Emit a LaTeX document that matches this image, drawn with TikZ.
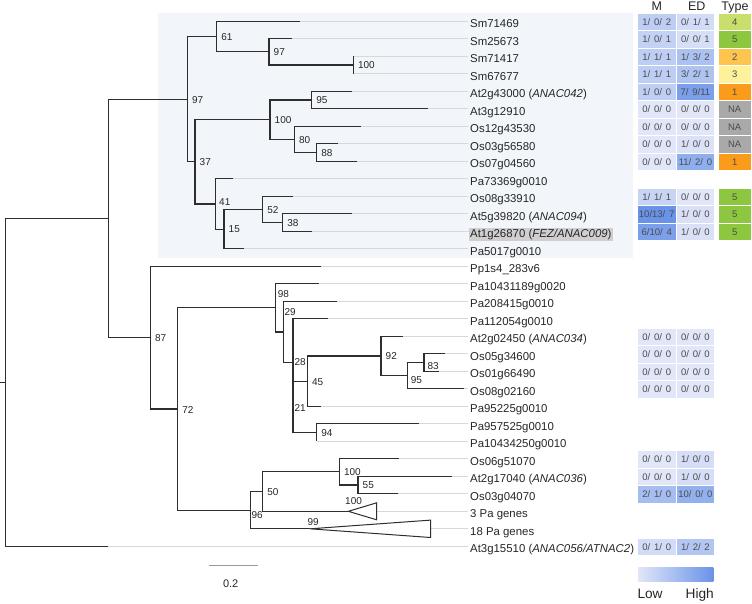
\documentclass[tikz,border=0pt]{standalone}
\usepackage{fontspec}
\setmainfont{Liberation Sans}
\usetikzlibrary{positioning,calc}
\definecolor{branch}{HTML}{2E2E2E}
\definecolor{leader}{HTML}{D8D8D8}
\definecolor{cladebg}{HTML}{F2F6FB}
\definecolor{hlgray}{HTML}{CFCFCF}
\definecolor{lo}{HTML}{E1E6F8}
\definecolor{hi}{HTML}{6993E8}
\definecolor{ty1}{HTML}{FA9B1C}
\definecolor{ty2}{HTML}{FDC44F}
\definecolor{ty3}{HTML}{FDF29B}
\definecolor{ty4}{HTML}{C9DF6B}
\definecolor{ty5}{HTML}{8DC63F}
\definecolor{tyna}{HTML}{A9A9A9}
\definecolor{sbar}{HTML}{9A9A9A}
\newcommand{\fs}{\hspace{0.4em}}
\newcommand{\trio}[3]{#1/#2/#3}

\begin{document}
\begin{tikzpicture}[x=1pt, y=-1pt,
  br/.style={draw=branch, line width=1.1pt},
  lead/.style={draw=leader, line width=0.8pt},
  leaf/.style={anchor=base west, font=\fontsize{11.4}{13}\selectfont, text=black!85, inner xsep=2pt, inner ysep=1.2pt, text height=8.2pt, text depth=2.4pt},
  bs/.style={anchor=west, inner sep=0pt, font=\fontsize{10}{12}\selectfont, text=black!85},
  cell/.style={minimum width=37.6pt, minimum height=16.6pt, inner sep=0pt, font=\fontsize{9.5}{11}\selectfont, text=black!70},
  tcell/.style={cell, minimum width=32.4pt},
  head/.style={anchor=base, font=\fontsize{12.5}{14}\selectfont, text=black!85},
  lgd/.style={font=\fontsize{13.7}{16}\selectfont, inner sep=0pt, text=black!85}]
\useasboundingbox (0,0) rectangle (752,603);

% highlighted clade
\fill[cladebg] (158,13) rectangle (633,258);

% leaf tips
\foreach \i/\x in {0/300,1/292.3,2/353.3,3/353.3,4/352.3,5/428.3,6/360.7,7/337.7,8/356.7,9/233.3,10/292.7,
  11/351.7,12/311.7,13/244.3,14/321,15/319,16/337.3,17/327.7,18/403.3,19/445,20/439,21/464,22/321,
  23/419,24/316.7,25/399,26/451.7,27/398.3,28/376.7,29/430.7,30/108.3}
  \coordinate (t\i) at (\x,{21.3+17.5*\i});

% leaf names
\node[leaf] (n0) at (468,27.5) {Sm71469};
\node[leaf] (n1) at (468,45) {Sm25673};
\node[leaf] (n2) at (468,62.5) {Sm71417};
\node[leaf] (n3) at (468,80) {Sm67677};
\node[leaf] (n4) at (468,97.5) {At2g43000 (\textit{ANAC042})};
\node[leaf] (n5) at (468,115) {At3g12910};
\node[leaf] (n6) at (468,132.5) {Os12g43530};
\node[leaf] (n7) at (468,150) {Os03g56580};
\node[leaf] (n8) at (468,167.5) {Os07g04560};
\node[leaf] (n9) at (468,185) {Pa73369g0010};
\node[leaf] (n10) at (468,202.5) {Os08g33910};
\node[leaf] (n11) at (468,220) {At5g39820 (\textit{ANAC094})};
\node[leaf, fill=hlgray, inner xsep=1pt] (n12) at (469,237.5) {At1g26870 (\textit{FEZ/ANAC009})};
\node[leaf] (n13) at (468,255) {Pa5017g0010};
\node[leaf] (n14) at (468,272.5) {Pp1s4\_283v6};
\node[leaf] (n15) at (468,290) {Pa10431189g0020};
\node[leaf] (n16) at (468,307.5) {Pa208415g0010};
\node[leaf] (n17) at (468,325) {Pa112054g0010};
\node[leaf] (n18) at (468,342.5) {At2g02450 (\textit{ANAC034})};
\node[leaf] (n19) at (468,360) {Os05g34600};
\node[leaf] (n20) at (468,377.5) {Os01g66490};
\node[leaf] (n21) at (468,395) {Os08g02160};
\node[leaf] (n22) at (468,412.5) {Pa95225g0010};
\node[leaf] (n23) at (468,430) {Pa957525g0010};
\node[leaf] (n24) at (468,447.5) {Pa10434250g0010};
\node[leaf] (n25) at (468,465) {Os06g51070};
\node[leaf] (n26) at (468,482.5) {At2g17040 (\textit{ANAC036})};
\node[leaf] (n27) at (468,500) {Os03g04070};
\node[leaf] (n28) at (468,517.5) {3 Pa genes};
\node[leaf] (n29) at (468,535) {18 Pa genes};
\node[leaf] (n30) at (468,552.5) {At3g15510 (\textit{ANAC056/ATNAC2})};

\foreach \i in {0,...,30}
  \draw[lead] (t\i) -- (t\i -| n\i.west);

% inner nodes
\coordinate (root0) at (0,382.4);
\coordinate (root) at (5.7,382.4);
\coordinate (A) at (108.3,218.5);
\coordinate (B) at (187.3,99.2);
\coordinate (D) at (216.7,36.6);
\coordinate (F) at (269,51.9);
\coordinate (G) at (353.3,65);
\coordinate (E) at (195,161.8);
\coordinate (H) at (270,119.7);
\coordinate (J) at (311.7,100);
\coordinate (K) at (294.3,139.4);
\coordinate (L) at (316.7,152.5);
\coordinate (I) at (215.3,204);
\coordinate (M) at (224,229.1);
\coordinate (N) at (262.7,209.4);
\coordinate (O) at (282.7,222.5);
\coordinate (C) at (150.3,337.7);
\coordinate (P) at (177.7,409);
\coordinate (Q) at (275.3,307.9);
\coordinate (S) at (283.7,332);
\coordinate (T) at (293,362.8);
\coordinate (T2) at (293,406.8);
\coordinate (U) at (307.3,381.2);
\coordinate (W) at (381,356);
\coordinate (X) at (407.7,375.7);
\coordinate (Y) at (424,362.5);
\coordinate (V) at (316.7,432.5);
\coordinate (R) at (250.7,510.2);
\coordinate (R2) at (262.7,491.6);
\coordinate (Z) at (339.3,471.9);
\coordinate (Z2) at (358,485);
\coordinate (c28) at (348.3,511.3);
\coordinate (c29) at (310,528.8);

% branches
\draw[br] (root0) -- (root);
\draw[br] (root) |- (A) (root) |- (t30);
\draw[br] (A) |- (B) (A) |- (C);
\draw[br] (B) |- (D) (B) |- (E);
\draw[br] (D) |- (t0) (D) |- (F);
\draw[br] (F) |- (t1) (F) |- (G);
\draw[br] (G) |- (t2) (G) |- (t3);
\draw[br] (E) |- (H) (E) |- (I);
\draw[br] (H) |- (J) (H) |- (K);
\draw[br] (J) |- (t4) (J) |- (t5);
\draw[br] (K) |- (t6) (K) |- (L);
\draw[br] (L) |- (t7) (L) |- (t8);
\draw[br] (I) |- (t9) (I) |- (M);
\draw[br] (M) |- (N) (M) |- (t13);
\draw[br] (N) |- (t10) (N) |- (O);
\draw[br] (O) |- (t11) (O) |- (t12);
\draw[br] (C) |- (t14) (C) |- (P);
\draw[br] (P) |- (Q) (P) |- (R);
\draw[br] (Q) |- (t15) (Q) |- (S);
\draw[br] (S) |- (t16) (S) |- (T);
\draw[br] (T) |- (t17) (T) |- (T2);
\draw[br] (T2) |- (U) (T2) |- (V);
\draw[br] (U) |- (W) (U) |- (t22);
\draw[br] (W) |- (t18) (W) |- (X);
\draw[br] (X) |- (Y) (X) |- (t21);
\draw[br] (Y) |- (t19) (Y) |- (t20);
\draw[br] (V) |- (t23) (V) |- (t24);
\draw[br] (R) |- (R2) (R) |- (c29);
\draw[br] (R2) |- (Z) (R2) |- (c28);
\draw[br] (Z) |- (t25) (Z) |- (Z2);
\draw[br] (Z2) |- (t26) (Z2) |- (t27);
\draw[br, line width=1pt] (c28) -- ($(t28)+(0,-8.5)$) -- ($(t28)+(0,8.5)$) -- cycle;
\draw[br, line width=1pt] (c29) -- ($(t29)+(0,-8.7)$) -- ($(t29)+(0,8.7)$) -- cycle;

% bootstrap values
\foreach \k/\v in {B/97,D/61,F/97,G/100,E/37,H/100,J/95,K/80,L/88,M/15,N/52,O/38,C/87,P/72,U/45,W/92,V/94,R2/50,Z/100,Z2/55}
  \node[bs] (s\k) at ($(\k)+(4.5,0.5)$) {\v};
\node[bs] (sI) at ($(I)+(3.7,-1.7)$) {41};
\node[bs] (sQ) at ($(Q)+(2.4,-14)$) {98};
\node[bs] (sS) at ($(S)+(0.6,-19.7)$) {29};
\node[bs] (sT) at ($(T)+(1.3,-0.5)$) {28};
\node[bs] (sT2) at ($(T2)+(1.3,1.5)$) {21};
\node[bs] (sX) at ($(X)+(3,4.3)$) {95};
\node[bs] (sY) at ($(Y)+(3.3,3.5)$) {83};
\node[bs] (sR) at ($(R)+(0.6,4.8)$) {96};
\node[bs] (s28) at ($(c28)+(-3.3,-10.6)$) {100};
\node[bs] (s29) at ($(c29)+(-2.7,-6.5)$) {99};

% table
\node[head] (hM) at (656.7,10.5) {M};
\node[head] (hED) at (696.7,10.5) {ED};
\node[head] (hType) at (735,10.5) {Type};
\foreach \r/\mv/\mp/\ev/\ep in {
  0/{\trio{1}{\fs0}{\fs2}}/30/{\trio{0}{\fs1}{\fs1}}/12,
  1/{\trio{1}{\fs0}{\fs1}}/25/{\trio{0}{\fs0}{\fs1}}/8,
  2/{\trio{1}{\fs1}{\fs1}}/30/{\trio{1}{\fs3}{\fs2}}/45,
  3/{\trio{1}{\fs1}{\fs1}}/30/{\trio{3}{\fs2}{\fs1}}/42,
  4/{\trio{1}{\fs0}{\fs0}}/28/{\trio{7}{\fs9}{11}}/85,
  5/{\trio{0}{\fs0}{\fs0}}/0/{\trio{0}{\fs0}{\fs0}}/0,
  6/{\trio{0}{\fs0}{\fs0}}/0/{\trio{0}{\fs0}{\fs0}}/0,
  7/{\trio{0}{\fs0}{\fs0}}/0/{\trio{1}{\fs0}{\fs0}}/5,
  8/{\trio{0}{\fs0}{\fs0}}/0/{\trio{11}{\fs2}{\fs0}}/68,
  10/{\trio{1}{\fs1}{\fs1}}/22/{\trio{0}{\fs0}{\fs0}}/0,
  11/{\trio{10}{13}{\fs7}}/100/{\trio{1}{\fs0}{\fs0}}/6,
  12/{\trio{6}{10}{\fs4}}/85/{\trio{1}{\fs0}{\fs0}}/6,
  18/{\trio{0}{\fs0}{\fs0}}/0/{\trio{0}{\fs0}{\fs0}}/0,
  19/{\trio{0}{\fs0}{\fs0}}/0/{\trio{0}{\fs0}{\fs0}}/0,
  20/{\trio{0}{\fs0}{\fs0}}/0/{\trio{0}{\fs0}{\fs0}}/0,
  21/{\trio{0}{\fs0}{\fs0}}/0/{\trio{0}{\fs0}{\fs0}}/0,
  25/{\trio{0}{\fs0}{\fs0}}/0/{\trio{1}{\fs0}{\fs0}}/10,
  26/{\trio{0}{\fs0}{\fs0}}/0/{\trio{1}{\fs0}{\fs0}}/10,
  27/{\trio{2}{\fs1}{\fs0}}/50/{\trio{10}{\fs0}{\fs0}}/65,
  30/{\trio{0}{\fs1}{\fs0}}/12/{\trio{1}{\fs2}{\fs2}}/38}
{
  \node[cell, fill=hi!\mp!lo] (m\r) at (656.7,{21.8+17.5*\r}) {\mv};
  \node[cell, fill=hi!\ep!lo] (e\r) at (695.4,{21.8+17.5*\r}) {\ev};
}
\foreach \r/\t/\c in {0/4/ty4,1/5/ty5,2/2/ty2,3/3/ty3,4/1/ty1,5/NA/tyna,6/NA/tyna,7/NA/tyna,8/1/ty1,10/5/ty5,11/5/ty5,12/5/ty5}
  \node[tcell, fill=\c] (y\r) at (734.7,{21.8+17.5*\r}) {\t};

% legend and scale
\node[minimum width=75pt, minimum height=14pt, inner sep=0pt, left color=lo, right color=hi] (bar) at (675.8,574.7) {};
\node[lgd, anchor=base west] (low) at ($(bar.south west)+(-0.8,16.6)$) {Low};
\node[lgd, anchor=base east] (high) at ($(bar.south east)+(0.5,16.6)$) {High};
\coordinate (sb1) at (209,565.7);
\coordinate (sb2) at (258.3,565.7);
\draw[draw=sbar, line width=0.8pt] (sb1) -- (sb2);
\node[anchor=base, font=\fontsize{11}{13}\selectfont, text=black!85] (sblab) at (230.7,587) {0.2};
\end{tikzpicture}
\end{document}
